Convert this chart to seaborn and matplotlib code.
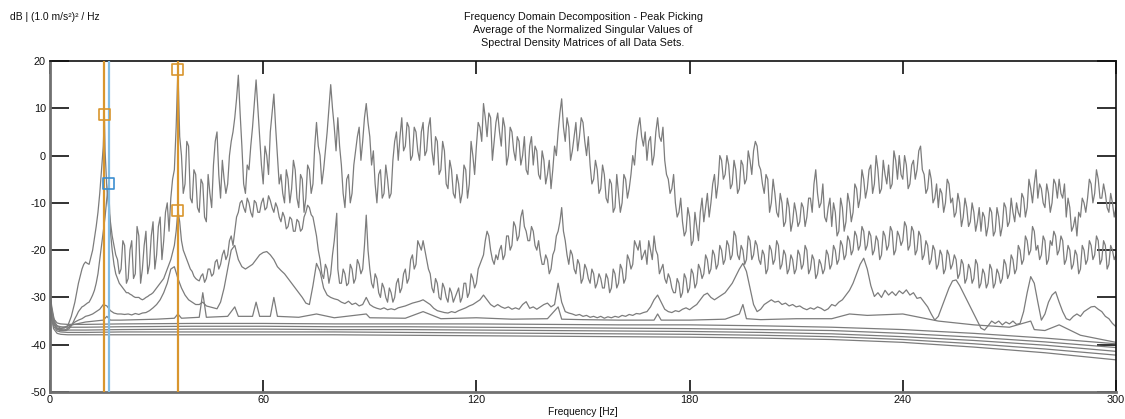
import numpy as np
import pandas as pd
import matplotlib
matplotlib.use("Agg")
import matplotlib.pyplot as plt
import seaborn as sns

# ---------------- data ----------------
FREQ = np.arange(0, 301, 1.0)        # integer-Hz grid
FREQ_MID = np.arange(0.5, 300, 1.0)  # half-Hz grid (between integers)

SV1 = [
    -29, -34, -36, -36.5, -36.5, -36, -34, -31, -27, -24,
    -22.5, -23, -20, -15, -8, 2, -7, -14, -19, -22,
    -24, -19, -26, -18, -25, -17, -24, -16, -23, -14,
    -21, -13, -18, -10, -9, -3, 18.3, 0, -6, 2,
    -10, -4, -12, -6, -14, -8, -2, 5, -9, -5,
    -6, 3, 8, 17, 2, -8, -3, 6, 16, 4,
    -6, 0, 5, 13, 0, -4, -10, -5, -7, -3,
    -11, -5, -9, -3, -6, 7, 0, -3, 5, 15,
    6, 8, -2, -11, -4, -8, 1, 6, 3, 11,
    4, 1, -10, -3, -8, -5, -8, 3, -1, 8,
    2, 6, 0, 5, -1, 7, 1, 8, -2, 3,
    -3, 1, -7, -3, -9, -6, -8, -3, -6, 0,
    2, 6, 11, 4, 8, 3, 9, 2, 6, 0,
    5, -1, 3, 0, -3, 2, -2, 1, -5, -1,
    -4, -7, 2, 5, 12, 3, 6, 1, 7, 4,
    7, 0, -2, -5, -3, -7, -4, -10, -6, -11,
    -8, -10, -5, -7, 0, 3, 8, 2, -1, 4,
    0, 8, 3, -1, -5, -7, -10, -12, -14, -16,
    -13, -18, -15, -12, -14, -8, -10, -4, -6, -1,
    -4, -2, -6, -3, -7, -2, -5, -1, 1, 2,
    -3, -8, -5, -10, -8, -13, -10, -14, -11, -14,
    -12, -14, -11, -13, -9, -6, -8, -10, -13, -11,
    -15, -12, -16, -11, -14, -10, -12, -7, -9, -5,
    -7, -2, -6, -3, -7, -4, -2, -6, -1, 0,
    -5, -2, -6, -1, -3, 2, -4, -7, -5, -9,
    -11, -8, -10, -6, -9, -12, -10, -13, -11, -14,
    -12, -14, -16, -13, -15, -12, -16, -13, -15, -11,
    -14, -12, -10, -13, -9, -11, -7, -6, -9, -7,
    -11, -8, -10, -6, -5, -9, -13, -11, -15, -17,
    -13, -10, -9, -6, -8, -5, -9, -8, -12, -10,
    -11,
]
SV1_MID = [
    -32, -35.5, -36.3, -36.5, -36.3, -35, -32.5, -29, -25.5, -23,
    -22.8, -21.5, -17.5, -12, -3, 1, -11, -17, -21, -25,
    -18, -27, -20, -26, -15, -27, -19, -25, -17, -24,
    -15, -22, -12, -16, -5, 6, 4, -8, 3, -9,
    -3, -11, -5, -13, -4, -11, 3, -4, -1, -8,
    0, 5, 12, 9, -6, -2, 2, 11, 10, -2,
    2, -4, 9, 6, -6, -8, -3, -10, -1, -9,
    -4, -12, -2, -8, 2, 2, -6, 1, 10, 10,
    1, 2, -8, -5, -10, -2, 4, -1, 8, 7,
    -2, -6, -4, -9, -2, -9, -1, 5, 4, 1,
    7, -1, 6, 1, 5, 0, 6, 1, 4, -4,
    3, -6, -1, -8, -4, -10, -2, -9, 3, -4,
    7, 3, 8, 9, -1, 7, 5, 8, -2, 6,
    1, 4, -2, 4, -4, 4, 2, -4, 1, -6,
    -1, -3, 0, 9, 6, 8, -1, 4, 1, 8,
    3, 4, -6, -1, -8, -2, -9, -5, -12, -4,
    -12, -4, -9, -4, -2, 6, 4, 5, 3, -2,
    5, 4, 6, -4, -8, -4, -13, -9, -17, -11,
    -19, -12, -18, -9, -11, -13, -6, -9, 0, -5,
    0, -7, -1, -8, -1, -6, 1, -4, 3, -2,
    -6, -4, -12, -5, -12, -8, -15, -9, -16, -10,
    -15, -10, -15, -9, -12, -3, -11, -6, -14, -9,
    -10, -17, -9, -16, -8, -14, -6, -11, -3, -9,
    -3, -8, 0, -8, -1, -6, -7, 1, -5, -4,
    0, -7, -2, -5, 1, -3, -8, -3, -10, -6,
    -7, -12, -5, -10, -13, -8, -15, -9, -15, -10,
    -16, -11, -12, -17, -11, -17, -11, -17, -10, -15,
    -9, -14, -12, -8, -13, -5, -10, -3, -6, -10,
    -6, -12, -5, -9, -8, -6, -9, -16, -13, -12,
    -9, -12, -5, -10, -3, -9, -6, -11, -8, -13,
]
SV1_PEAK_F = [15.3]
SV1_PEAK_DB = [8.7]

SV2 = [
    -30, -35, -36.5, -37, -37, -36.8, -36, -34.5, -33, -32,
    -31.5, -31, -29.5, -27, -22, -16, -9, -16, -23, -26,
    -27.5, -28.5, -29, -29.5, -30, -30, -30.5, -30, -29.5, -29,
    -28, -27, -26, -24, -22, -19, -11.6, -18, -21, -23,
    -24.5, -26, -26.5, -25, -26, -24, -25, -22, -23, -20,
    -21, -17, -16, -12, -9.5, -12, -10, -13, -10, -12,
    -9, -11, -9.5, -12, -11, -14, -13, -15, -13.5, -16,
    -14, -15.5, -12, -11, -13, -17, -22, -26, -24, -25,
    -18, -24, -27, -25, -27, -24, -26, -23, -24, -12.6,
    -24, -28, -26, -30, -28, -31, -29, -30, -26, -28,
    -24, -26, -21, -23, -19, -18, -22, -25, -29, -27,
    -30.5, -28, -31, -29, -30, -28, -30, -27, -29, -26,
    -27, -23, -21, -16, -20, -23, -22, -19, -21, -17,
    -19, -15, -17, -11.5, -16, -18, -16, -20, -21, -23,
    -22, -24, -20, -16, -11, -18, -23, -21, -25, -23,
    -26, -24, -27, -25, -27, -26, -28, -26, -28, -25,
    -27, -24, -26, -22, -23, -19, -18, -21, -23, -20,
    -17, -21, -24, -26, -25, -28, -29, -27, -29, -26,
    -28, -25, -27, -24, -25, -22, -24, -21, -23, -20,
    -22, -19, -21, -17, -22, -20, -22, -18, -21, -19,
    -23, -21, -24, -20, -22, -19, -23, -21, -24, -22,
    -24, -21, -23, -20, -24, -22, -25, -23, -24, -21,
    -23, -20, -22, -19, -21, -18, -20, -17, -19, -16,
    -19, -17, -20, -18, -21, -17, -19, -16, -20, -17,
    -18, -15, -19, -16, -20, -17, -21, -19, -22, -20,
    -23, -21, -24, -21, -23, -22, -25, -23, -26, -24,
    -26, -23, -27, -25, -27, -24, -27, -25, -26, -23,
    -25, -22, -24, -20, -22, -18, -20, -16, -19, -21,
    -18, -22, -19, -17, -20, -18, -22, -20, -23, -21,
    -24, -20, -22, -19, -21, -18, -22, -19, -23, -20,
    -21,
]
SV2_MID = [
    -33, -36, -36.8, -37, -37, -36.5, -35.3, -33.8, -32.5, -31.8,
    -31.2, -30.3, -28.5, -25, -19, -13, -5.9, -20, -25, -27,
    -28, -29, -29.3, -29.8, -30, -30.3, -30.3, -29.8, -29.3, -28.5,
    -27.5, -26.5, -25, -23, -20.5, -16, -14, -20, -22, -24,
    -25.5, -26.3, -25.5, -26.8, -24, -25.5, -22.5, -24, -21, -22,
    -18, -19, -13, -10, -11, -9, -12, -9.5, -12, -10,
    -11.5, -8.5, -11, -10, -13, -12, -15.5, -13, -16, -13.5,
    -16, -13, -10.5, -12.5, -15, -20, -25, -23, -27, -21,
    -14, -27, -24, -27.5, -23, -27, -22, -25, -19, -20,
    -27, -25, -29, -27, -30, -28, -31, -27, -29, -25,
    -27, -22, -24, -18, -20, -20, -24, -28, -26, -30,
    -27, -30, -28, -31, -29, -31, -27, -30, -25, -28,
    -24, -22, -18, -17, -22, -21, -20, -22, -17, -20,
    -14, -18, -13, -15, -18, -15, -19, -18, -23, -21,
    -25, -21, -17, -14, -16, -21, -20, -24, -22, -27,
    -23, -26, -24, -28, -25, -28, -25, -29, -24, -28,
    -23, -27, -21, -24, -18, -20, -22, -20, -18, -22,
    -20, -25, -23, -27, -26, -29, -26, -30, -25, -29,
    -24, -28, -23, -26, -21, -25, -20, -24, -19, -23,
    -18, -22, -16, -21, -19, -23, -17, -22, -18, -22,
    -20, -25, -19, -23, -18, -24, -20, -25, -21, -25,
    -20, -24, -19, -25, -21, -26, -22, -25, -20, -24,
    -19, -23, -18, -22, -17, -21, -16, -20, -15, -20,
    -16, -21, -17, -22, -16, -20, -15, -21, -16, -19,
    -14, -20, -15, -21, -16, -22, -18, -23, -19, -24,
    -20, -25, -20, -24, -21, -26, -22, -27, -23, -27,
    -22, -28, -24, -28, -23, -28, -24, -27, -22, -26,
    -21, -25, -19, -23, -17, -21, -15, -20, -22, -17,
    -23, -18, -16, -21, -17, -23, -19, -24, -20, -25,
    -19, -23, -18, -22, -17, -23, -18, -24, -19, -22,
]
SV2_PEAK_F = [80.7]
SV2_PEAK_DB = [-12.2]

SV3 = [
    -30.5, -35.5, -36.8, -37, -37, -36.5, -35.8, -35.2, -34.8, -34.5,
    -34, -33.8, -33.5, -33, -32.5, -31.5, -31.8, -32.8, -33.3, -33.5,
    -33.5, -33.6, -33.5, -33.7, -33.4, -33.6, -33.3, -33.2, -32.8, -32.2,
    -31.5, -30.5, -29, -27, -24, -23.5, -26, -28, -29.5, -30.5,
    -31, -31.5, -31.5, -31, -31.8, -32, -32.2, -32.4, -31, -28,
    -24, -20, -19, -22, -23.5, -24, -23.5, -23, -22, -21,
    -20.5, -20.3, -21, -22, -23.5, -24.3, -25, -26, -27, -28,
    -29, -30, -31.2, -31.5, -27.5, -22.8, -24.5, -28, -29.5, -30,
    -30.3, -30.5, -31, -31.3, -30.8, -31.5, -31.2, -31.8, -31.5, -30,
    -31.5, -32, -32.3, -32.5, -32.2, -32.6, -32.4, -32.6, -32.2, -32,
    -31.8, -31.5, -31.2, -31, -30.8, -30.5, -31, -31.5, -32.3, -32.8,
    -33, -33.2, -33.3, -33, -33.2, -32.8, -32.5, -32.2, -31.8, -31.5,
    -31, -30.5, -29.5, -30.5, -31.5, -32, -31.5, -32, -32.3, -32,
    -32.5, -32.2, -32.5, -31.5, -30.9, -32.3, -32, -32.5, -32, -31.5,
    -31.2, -32, -31.5, -27, -31, -33, -33.3, -33.5, -33.8, -33.6,
    -34, -33.8, -34.2, -34, -34.3, -34, -34.4, -34.1, -34.3, -34,
    -34.2, -33.8, -34, -33.6, -33.8, -33.4, -33.5, -33.2, -33, -32,
    -30.5, -29.5, -31, -32.5, -33, -33.2, -32.8, -33, -32.5, -32.2,
    -32.6, -32, -31.5, -30.5, -29.5, -29.1, -30, -30.5, -30, -29.5,
    -29, -28, -27, -25.5, -24, -22.8, -24.5, -28, -31.5, -33,
    -32.5, -31.5, -31, -30.5, -31, -30.8, -31.5, -31.2, -31.8, -31.5,
    -32, -31.8, -32.3, -32.6, -32.2, -32.5, -32, -32.3, -32.8, -32.4,
    -31.5, -31.8, -31, -30.5, -29.5, -28.5, -27, -25, -23, -21.7,
    -24, -27.5, -29.8, -29, -30, -28.5, -29.5, -28.8, -29.6, -28.6,
    -29.2, -28.4, -29.5, -29, -30.2, -30, -31, -32, -33.5, -34.8,
    -34, -32, -30, -28, -26.5, -26.3, -27.5, -29, -30.5, -32,
    -33.5, -35, -36.5, -36.9, -36, -35, -35.5, -35, -35.8, -35.2,
    -35.6, -35, -35.7, -35.5, -33, -29, -25.6, -27, -31, -34.8,
    -33.5, -31, -29.5, -28.8, -31, -33, -34.5, -34.8, -34, -33.5,
    -34, -33, -32.5, -32, -31.9, -32.5, -33, -34, -34.5, -35.5,
    -36.2,
]

SV4_F = [0, 1, 2, 3, 5, 10, 15, 16, 17, 20, 30, 35, 36, 37, 42, 43, 44, 50, 52, 53,
         57, 58, 59, 62, 63, 64, 70, 75, 80, 89, 90, 100, 105, 110, 120, 130, 140, 143, 144, 150,
         160, 170, 171, 172, 180, 190, 194, 195, 196, 200, 210, 220, 225, 230, 240, 250, 260, 270, 276, 277,
         280, 284, 290, 300]
SV4_DB = [-31, -35.5, -36.5, -36.6, -36, -35.2, -34.8, -34, -34.8, -34.8, -34.6, -34.4, -33.5, -34.4, -34.2, -29, -34.2, -34, -32, -34,
          -34, -31, -34, -34, -30, -34, -34.2, -33.5, -34.3, -33.5, -34.3, -34.4, -33, -34.5, -34.3, -34.6, -34.5, -32, -34.6, -34.7,
          -34.8, -34.8, -33.5, -34.8, -34.8, -34.6, -33.5, -31.5, -34.5, -34.7, -34.5, -34.5, -33.5, -33.8, -33.5, -35, -35.8, -36.3, -35, -36.8,
          -37, -35.8, -38, -39.5]

B_F = [0, 0.5, 1, 2, 3, 5, 10, 20, 40, 60, 80, 100, 120, 140, 160, 180, 200, 220, 240, 260, 280, 300]
SV5 = [-29.5, -32.5, -34.5, -35.4, -35.6, -35.7, -35.7, -35.6, -35.5, -35.5, -35.6, -35.6, -35.6, -35.7, -35.8, -35.8, -36.0, -36.3, -36.8, -37.6, -38.6, -39.8]
SV6 = [-30, -33, -35, -36, -36.2, -36.3, -36.3, -36.2, -36.1, -36.1, -36.2, -36.2, -36.3, -36.4, -36.5, -36.6, -36.8, -37.0, -37.6, -38.4, -39.4, -40.6]
SV7 = [-30.5, -33.5, -35.6, -36.6, -36.8, -36.9, -36.9, -36.8, -36.7, -36.7, -36.8, -36.8, -36.9, -37.0, -37.1, -37.2, -37.4, -37.7, -38.3, -39.1, -40.1, -41.4]
SV8 = [-31, -34, -36.1, -37.1, -37.3, -37.4, -37.4, -37.3, -37.3, -37.3, -37.3, -37.4, -37.5, -37.6, -37.7, -37.8, -38.0, -38.3, -38.9, -39.8, -40.9, -42.2]
SV9 = [-31.5, -34.5, -36.6, -37.6, -37.8, -37.9, -37.9, -37.9, -37.9, -37.9, -37.9, -38.0, -38.1, -38.2, -38.3, -38.4, -38.6, -38.9, -39.5, -40.5, -41.7, -43.2]

PICK_F = [15.3, 36.0]          # picked peaks (orange)
PICK_BLUE_F = [16.5]           # picked peak (blue)
MARK_F = [15.3, 16.5, 36.0, 36.0]
MARK_DB = [8.7, -5.9, 18.3, -11.6]
MARK_C = ["orange", "blue", "orange", "orange"]

TITLE_LINES = ["Frequency Domain Decomposition - Peak Picking",
               "Average of the Normalized Singular Values of",
               "Spectral Density Matrices of all Data Sets."]
Y_UNIT = "dB | (1.0 m/s\u00b2)\u00b2 / Hz"
X_LABEL = "Frequency [Hz]"
X_TICKS = [0, 60, 120, 180, 240, 300]
Y_TICKS = [-50, -40, -30, -20, -10, 0, 10, 20]

# ---------------- build long table ----------------
def curve(name, f, db):
    d = pd.DataFrame({"freq": np.asarray(f, float), "db": np.asarray(db, float)})
    d["curve"] = name
    return d.sort_values("freq", kind="stable")

assert len(SV1) == len(FREQ) and len(SV2) == len(FREQ) and len(SV3) == len(FREQ)
assert len(SV1_MID) == len(FREQ_MID) and len(SV2_MID) == len(FREQ_MID)
assert len(SV4_F) == len(SV4_DB)
frames = [
    curve("SV1", np.r_[FREQ, FREQ_MID, SV1_PEAK_F], np.r_[SV1, SV1_MID, SV1_PEAK_DB]),
    curve("SV2", np.r_[FREQ, FREQ_MID, SV2_PEAK_F], np.r_[SV2, SV2_MID, SV2_PEAK_DB]),
    curve("SV3", FREQ, SV3),
    curve("SV4", SV4_F, SV4_DB),
    curve("SV5", B_F, SV5),
    curve("SV6", B_F, SV6),
    curve("SV7", B_F, SV7),
    curve("SV8", B_F, SV8),
    curve("SV9", B_F, SV9),
]
df = pd.concat(frames, ignore_index=True)

# ---------------- style ----------------
sns.set_theme(style="white")
plt.rcParams["font.family"] = ["Liberation Sans", "DejaVu Sans"]

W, H = 1125, 419
fig = plt.figure(figsize=(W / 100, H / 100), dpi=100)
ax = fig.add_axes([50 / W, (H - 392) / H, 1066 / W, 331 / H])

GRAY = "#7c7c7c"
ORANGE = "#D9962E"
BLUE_LINE = "#82BDE4"
BLUE_MARK = "#3D8FD1"

sns.lineplot(data=df, x="freq", y="db", units="curve", estimator=None,
             sort=False, color=GRAY, lw=0.9, ax=ax, legend=False)

for f in PICK_F:
    ax.axvline(f, color=ORANGE, lw=1.6, zorder=5)
for f in PICK_BLUE_F:
    ax.axvline(f, color=BLUE_LINE, lw=1.6, zorder=5)

cmap = {"orange": ORANGE, "blue": BLUE_MARK}
ax.scatter(MARK_F, MARK_DB, marker="s", s=62, facecolors="none",
           edgecolors=[cmap[c] for c in MARK_C], linewidths=1.2, zorder=6)

ax.set_xlim(0, 300)
ax.set_ylim(-50, 20)
ax.set_xticks(X_TICKS)
ax.set_yticks(Y_TICKS)
ax.set_xticklabels([str(t) for t in X_TICKS])
ax.set_yticklabels([str(t) for t in Y_TICKS])
ax.set_xlabel("")
ax.set_ylabel("")

ax.tick_params(axis="y", which="major", direction="in", length=14, width=1.3,
               left=True, right=True, labelleft=True, labelright=False,
               labelsize=7.8, pad=3, color="#222222", labelcolor="#111111")
ax.tick_params(axis="x", which="major", direction="in", length=9, width=1.3,
               top=True, bottom=True, labeltop=False, labelbottom=True,
               labelsize=7.8, pad=2, color="#222222", labelcolor="#111111")

for side in ["left", "bottom"]:
    ax.spines[side].set_color("#707070")
    ax.spines[side].set_linewidth(2.0)
for side in ["top", "right"]:
    ax.spines[side].set_color("#111111")
    ax.spines[side].set_linewidth(1.2)
    ax.spines[side].set_visible(True)

for i, line in enumerate(TITLE_LINES):
    fig.text(583 / W, 1 - (16.5 + 13.3 * i) / H, line, ha="center", va="center",
             fontsize=7.75, color="#111111")
fig.text(10 / W, 1 - 16.5 / H, Y_UNIT, ha="left", va="center", fontsize=7.4, color="#111111")
fig.text(583 / W, 1 - 412 / H, X_LABEL, ha="center", va="center", fontsize=7.4, color="#111111")

fig.savefig("out.png", dpi=100)
